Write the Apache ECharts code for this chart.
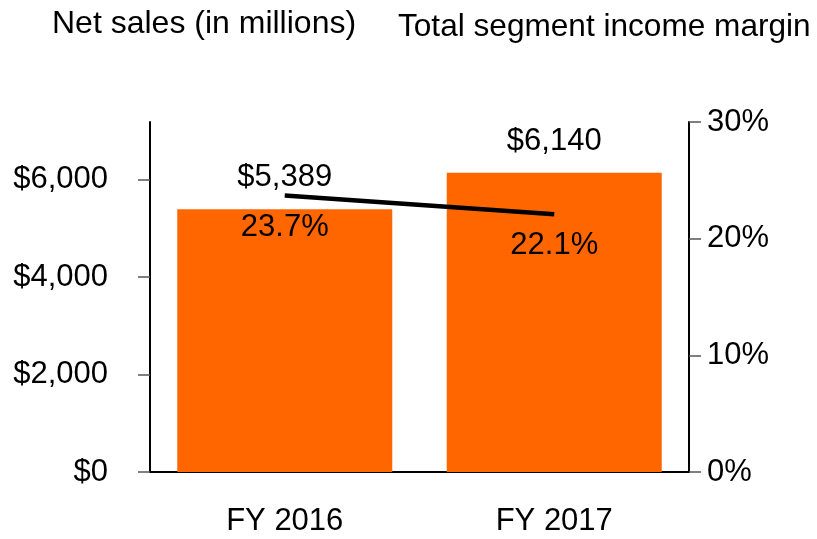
<!DOCTYPE html>
<html>
<head>
<meta charset="utf-8">
<script src="https://cdn.jsdelivr.net/npm/echarts@6/dist/echarts.min.js"></script>
<style>
  html, body { margin: 0; padding: 0; background: #fff; }
  #chart { width: 817px; height: 539px; }
</style>
</head>
<body>
<div id="chart"></div>
<script>
// data
var categories = ["FY 2016", "FY 2017"];
var netSales = [5389, 6140];
var margins = [23.7, 22.1];
var salesTicks = [0, 2000, 4000, 6000];

var font = "'Liberation Sans', Arial, sans-serif";

var myChart = echarts.init(document.getElementById("chart"));
var option;
option = {
  animation: false,
  textStyle: { fontFamily: font, color: "#000" },
  title: [
    {
      text: "Net sales (in millions)",
      left: 52,
      top: 8,
      padding: 0,
      textStyle: { fontSize: 32, fontWeight: "normal", color: "#000", fontFamily: font },
    },
    {
      text: "Total segment income margin",
      left: 398,
      top: 11,
      padding: 0,
      textStyle: { fontSize: 31.6, fontWeight: "normal", color: "#000", fontFamily: font },
    },
  ],
  grid: {
    left: 150,
    right: 128,
    top: 122,
    bottom: 67,
  },
  xAxis: {
    type: "category",
    data: categories,
    axisLine: { lineStyle: { color: "#000", width: 2 } },
    axisTick: { alignWithLabel: true, length: 12, lineStyle: { color: "#555", width: 1.5 } },
    axisLabel: { fontSize: 31, color: "#000", margin: 34, fontFamily: font },
  },
  yAxis: [
    {
      type: "value",
      min: 0,
      max: 7180,
      interval: 2000,
      splitLine: { show: false },
      axisLine: { show: true, lineStyle: { color: "#000", width: 2 } },
      axisTick: {
        show: true,
        length: 12,
        customValues: salesTicks,
        lineStyle: { color: "#555", width: 1.5 },
      },
      axisLabel: {
        fontSize: 31,
        color: "#000",
        margin: 42,
        fontFamily: font,
        customValues: salesTicks,
        formatter: function (v) {
          return "$" + v.toLocaleString("en-US");
        },
      },
    },
    {
      type: "value",
      min: 0,
      max: 30,
      interval: 10,
      position: "right",
      splitLine: { show: false },
      axisLine: { show: true, lineStyle: { color: "#000", width: 2 } },
      axisTick: { show: true, length: 12, lineStyle: { color: "#555", width: 1.5 } },
      axisLabel: { fontSize: 31, color: "#000", margin: 18, fontFamily: font, formatter: "{value}%" },
    },
  ],
  series: [
    {
      name: "Net sales",
      type: "bar",
      yAxisIndex: 0,
      barWidth: 215,
      itemStyle: { color: "#FF6600" },
      label: {
        show: true,
        position: "top",
        distance: 16,
        fontSize: 31,
        color: "#000",
        fontFamily: font,
        formatter: function (p) {
          return "$" + p.value.toLocaleString("en-US");
        },
      },
      data: netSales,
    },
    {
      name: "Total segment income margin",
      type: "line",
      yAxisIndex: 1,
      symbol: "circle",
      symbolSize: 0,
      lineStyle: { color: "#000", width: 4.5 },
      itemStyle: { color: "#000" },
      label: {
        show: true,
        position: "bottom",
        distance: 16,
        fontSize: 31,
        color: "#000",
        fontFamily: font,
        formatter: "{c}%",
      },
      data: margins,
    },
  ],
};
option && myChart.setOption(option);
</script>
</body>
</html>
